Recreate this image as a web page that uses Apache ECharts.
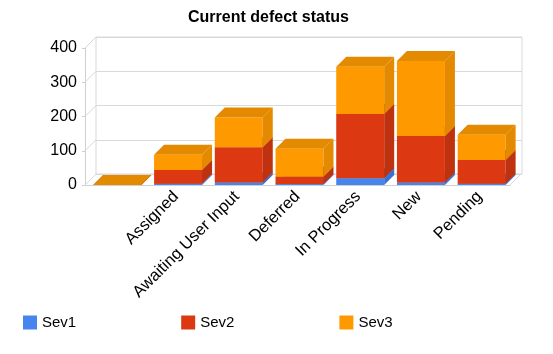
<!DOCTYPE html>
<html>
<head>
<meta charset="utf-8">
<title>Current defect status</title>
<script src="https://cdn.jsdelivr.net/npm/echarts@6/dist/echarts.min.js"></script>
</head>
<body style="margin:0;padding:0;background:#fff;">
<div id="main" style="width:553px;height:354px;"></div>
<script>
// data
var categories = ['', 'Assigned', 'Awaiting User Input', 'Deferred', 'In Progress', 'New', 'Pending'];
var sev1 = [0, 4, 7, 3, 20, 7, 4];
var sev2 = [0, 40, 103, 21, 187, 136, 69];
var sev3 = [0, 44, 87, 82, 138, 219, 74];
var wallTicks = [0, 100, 200, 300, 400];

var seriesNames = ['Sev1', 'Sev2', 'Sev3'];
var frontColors = ['#4684ee', '#dc3912', '#ff9900'];
var sideColors = ['#3a70d2', '#bf3210', '#e38a00'];
var DEPTH = 10;
var WALL = 11;
var gridLine = '#d9d9d9';

// stack the values -> [cat, base, top]
var stacks = [sev1, sev2, sev3];
var base = categories.map(function () { return 0; });
var stackData = stacks.map(function (arr) {
    return arr.map(function (v, i) {
        var item = [i, base[i], base[i] + v];
        base[i] += v;
        return item;
    });
});

function barItem(k) {
    return function (params, api) {
        var i = api.value(0);
        var p0 = api.coord([i, api.value(1)]);
        var p1 = api.coord([i, api.value(2)]);
        var bw = api.size([1, 0])[0] * 0.79;
        var x0 = p0[0] - bw / 2 + 2, x1 = x0 + bw;
        var yb = p0[1], yt = p1[1], d = DEPTH;
        return {
            type: 'group',
            children: [
                { type: 'polygon', shape: { points: [[x0, yb], [x1, yb], [x1, yt], [x0, yt]] },
                  style: { fill: frontColors[k] } },
                { type: 'polygon', shape: { points: [[x1, yb], [x1 + d, yb - d], [x1 + d, yt - d], [x1, yt]] },
                  style: { fill: sideColors[k] } },
                { type: 'polygon', shape: { points: [[x0, yt], [x1, yt], [x1 + d, yt - d], [x0 + d, yt - d]] },
                  style: { fill: sideColors[k] } }
            ]
        };
    };
}

var series = seriesNames.map(function (name, k) {
    return {
        name: name,
        type: 'custom',
        xAxisIndex: 0, yAxisIndex: 0,
        itemStyle: { color: frontColors[k] },
        renderItem: barItem(k),
        encode: { x: 0, y: [1, 2] },
        data: stackData[k],
        z: 3
    };
});

// side wall and floor diagonals
series.unshift({
    type: 'custom',
    xAxisIndex: 0, yAxisIndex: 0,
    silent: true,
    z: 1,
    renderItem: function (params, api) {
        var cs = params.coordSys;
        var y = api.coord([0, api.value(1)])[1];
        var kids = [{ type: 'line', shape: { x1: cs.x, y1: y, x2: cs.x + WALL, y2: y - WALL },
                      style: { stroke: gridLine, lineWidth: 1 } }];
        if (api.value(1) === 0) {
            kids.push({ type: 'line', shape: { x1: cs.x + cs.width, y1: y, x2: cs.x + cs.width + WALL, y2: y - WALL },
                        style: { stroke: gridLine, lineWidth: 1 } });
        }
        return { type: 'group', children: kids };
    },
    encode: { x: 0, y: 1 },
    data: wallTicks.map(function (v) { return [0, v]; })
});

var chart = echarts.init(document.getElementById('main'));
chart.setOption({
    animation: false,
    backgroundColor: '#fff',
    title: {
        text: 'Current defect status',
        left: 183, top: 5,
        textStyle: { fontFamily: 'Liberation Sans', fontSize: 16, fontWeight: 'bold', color: '#000' }
    },
    legend: {
        data: seriesNames,
        left: 18, top: 310,
        icon: 'rect',
        itemWidth: 14, itemHeight: 14,
        itemGap: 105,
        textStyle: { fontFamily: 'Liberation Sans', fontSize: 15, color: '#000' }
    },
    grid: [
        { left: 85, right: 43, top: 48, bottom: 169 },
        { left: 96, right: 31, top: 37, bottom: 180, show: true,
          borderColor: gridLine, borderWidth: 1, backgroundColor: 'transparent' }
    ],
    xAxis: [
        {
            type: 'category', gridIndex: 0, data: categories,
            axisLine: { lineStyle: { color: '#cfcfcf' } },
            axisTick: { length: 5, lineStyle: { color: '#cfcfcf' } },
            axisLabel: { interval: 0, rotate: 45, margin: 9,
                         fontFamily: 'Liberation Sans', fontSize: 16.5, color: '#000' }
        },
        { type: 'category', gridIndex: 1, data: categories, show: false }
    ],
    yAxis: [
        {
            type: 'value', gridIndex: 0, min: 0, max: 400, interval: 100,
            axisLine: { show: true, lineStyle: { color: '#cfcfcf' } },
            axisTick: { show: true, length: 3, lineStyle: { color: '#cfcfcf' } },
            splitLine: { show: false },
            axisLabel: { margin: 8, fontFamily: 'Liberation Sans', fontSize: 16, color: '#000' }
        },
        {
            type: 'value', gridIndex: 1, min: 0, max: 400, interval: 100,
            axisLine: { show: false }, axisTick: { show: false }, axisLabel: { show: false },
            splitLine: { lineStyle: { color: gridLine } }
        }
    ],
    series: series
});
</script>
</body>
</html>
